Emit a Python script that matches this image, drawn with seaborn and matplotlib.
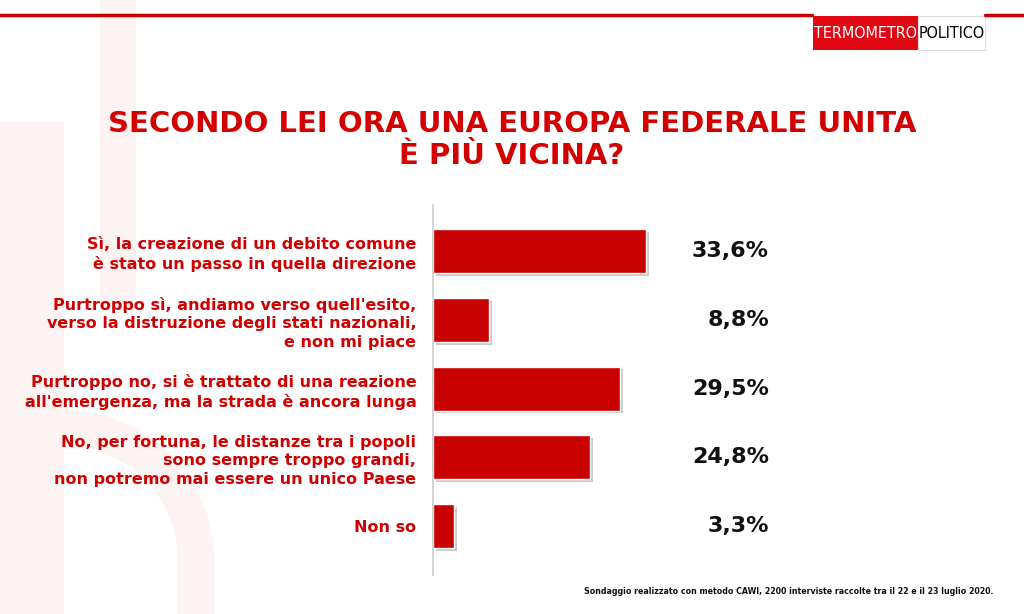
import matplotlib
matplotlib.use("Agg")
import matplotlib.pyplot as plt
import matplotlib.patheffects as pe
from matplotlib.patches import Rectangle, Wedge
import pandas as pd
import seaborn as sns

# dati del sondaggio
risposte = [
    "Sì, la creazione di un debito comune\nè stato un passo in quella direzione",
    "Purtroppo sì, andiamo verso quell'esito,\nverso la distruzione degli stati nazionali,\ne non mi piace",
    "Purtroppo no, si è trattato di una reazione\nall'emergenza, ma la strada è ancora lunga",
    "No, per fortuna, le distanze tra i popoli\nsono sempre troppo grandi,\nnon potremo mai essere un unico Paese",
    "Non so",
]
percentuali = [33.6, 8.8, 29.5, 24.8, 3.3]
etichette = ["33,6%", "8,8%", "29,5%", "24,8%", "3,3%"]

titolo = "SECONDO LEI ORA UNA EUROPA FEDERALE UNITA\nÈ PIÙ VICINA?"
nota = "Sondaggio realizzato con metodo CAWI, 2200 interviste raccolte tra il 22 e il 23 luglio 2020."

ROSSO = "#c80000"

sns.set_style("white")
plt.rcParams["font.family"] = ["DejaVu Sans"]

df = pd.DataFrame({"risposta": risposte, "perc": percentuali})

fig = plt.figure(figsize=(10.24, 6.14), dpi=100)

# sfondo: marchio sbiadito a sinistra
bg = fig.add_axes([0, 0, 1, 1], zorder=-5)
bg.set_xlim(0, 1024)
bg.set_ylim(614, 0)
bg.axis("off")
tinta = "#fdf3f3"
bg.add_patch(Rectangle((100, 0), 36, 310, color=tinta, lw=0))
bg.add_patch(Rectangle((0, 122), 64, 492, color=tinta, lw=0))
bg.add_patch(Wedge((64, 560), 150, 270, 360, width=36, color=tinta, lw=0))
bg.add_patch(Rectangle((178, 560), 36, 54, color=tinta, lw=0))
# linea rossa in alto
bg.plot([0, 812], [15, 15], color=ROSSO, lw=2.5)
bg.plot([985, 1024], [15, 15], color=ROSSO, lw=2.5)
# logo
bg.add_patch(Rectangle((813, 16), 105, 34, color="#e30613", lw=0))
bg.add_patch(Rectangle((918, 16), 67, 34, facecolor="white", edgecolor="#dddddd", lw=0.8))
bg.text(865.5, 34, "TERMOMETRO", color="white", fontsize=11.5, ha="center", va="center",
        fontstretch="condensed")
bg.text(951.5, 34, "POLITICO", color="black", fontsize=11.5, ha="center", va="center",
        fontstretch="condensed")

# titolo
fig.text(0.5, 1 - 140 / 614, titolo, ha="center", va="center", color="#d40000",
         fontsize=21, fontweight="bold", linespacing=1.15)

# grafico a barre
ax = fig.add_axes([433 / 1024, 39 / 614, 253.6 / 1024, 370 / 614])
sns.barplot(data=df, x="perc", y="risposta", color=ROSSO, saturation=1,
            width=0.64, ax=ax, orient="h")
for p in ax.patches:
    p.set_path_effects([pe.SimplePatchShadow(offset=(2, -2), shadow_rgbFace="#999999", alpha=0.5),
                        pe.Normal()])
ax.set_xlim(0, 40)
ax.set_ylim(4.71, -0.67)
ax.set_xlabel("")
ax.set_ylabel("")
ax.set_xticks([])
for s in ["top", "right", "bottom"]:
    ax.spines[s].set_visible(False)
ax.spines["left"].set_color("#cccccc")
ax.spines["left"].set_linewidth(1.2)
ax.tick_params(axis="y", length=0, pad=12)
for lab in ax.get_yticklabels():
    lab.set_color("#d00000")
    lab.set_fontweight("bold")
    lab.set_fontsize(11.5)
    lab.set_linespacing(1.3)

for i, t in enumerate(etichette):
    ax.text(53, i, t, ha="right", va="center", fontsize=16, fontweight="bold",
            color="#111111", clip_on=False)

fig.text(993 / 1024, 1 - 592 / 614, nota, ha="right", va="center", fontsize=5.7,
         fontweight="bold", color="#111111")

fig.savefig("out.png", dpi=100)
